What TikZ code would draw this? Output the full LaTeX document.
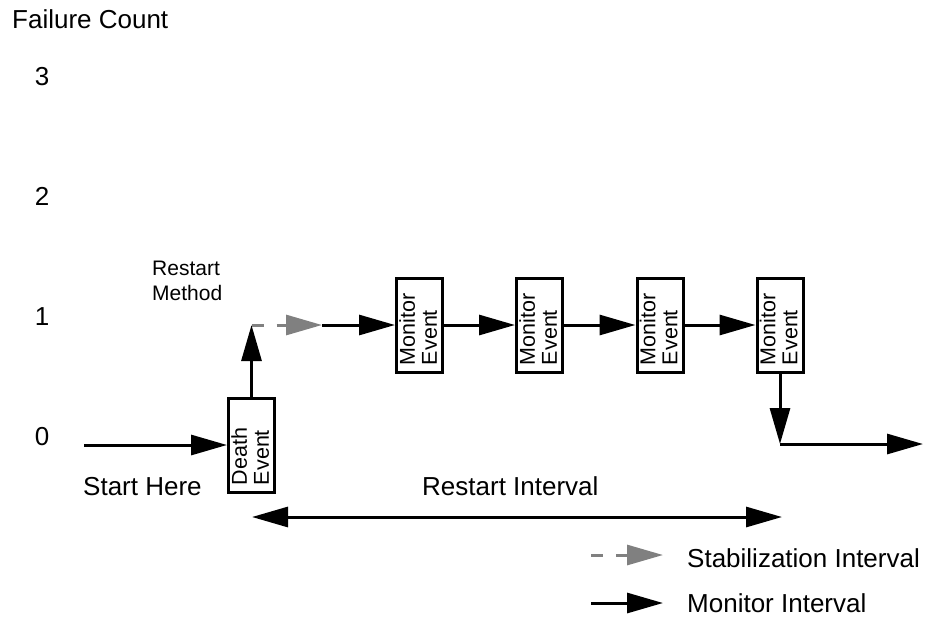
\documentclass[tikz,border=0pt]{standalone}
\usepackage{fontspec}
\setmainfont{Liberation Sans}
\usepackage{graphicx}
\usetikzlibrary{arrows.meta}
\definecolor{stabgray}{RGB}{128,128,128}
% two-line label set sideways inside an event box, nudged off the left border
\newcommand{\evlabel}[2]{\makebox[0pt]{\hspace*{4pt}\rotatebox{90}{\begin{tabular}{@{}p{80pt}@{}}#1\\#2\end{tabular}}}}

\begin{document}
\begin{tikzpicture}[
  x=1pt, y=-1pt,
  bigtip/.tip={Triangle[length=36pt,width=20pt]},
  flow/.style={line width=3pt, -bigtip},
  stab/.style={flow, stabgray, dash pattern=on 12pt off 13pt},
  span/.style={line width=3pt, bigtip-bigtip},
  evbox/.style={draw, line width=3pt, minimum width=46pt, minimum height=94pt,
    inner sep=0pt, font=\fontsize{21.5}{22}\selectfont},
  lbl/.style={inner sep=0pt, anchor=base west, font=\fontsize{26}{30}\selectfont},
  num/.style={inner sep=0pt, anchor=base, font=\fontsize{26}{30}\selectfont},
  small/.style={inner sep=0pt, anchor=base west, font=\fontsize{21}{25}\selectfont},
]
\useasboundingbox (0,0) rectangle (929,619);

% axis title and failure-count levels
\node[lbl] (title) at (12,28) {Failure Count};
\node[num] (c3) at (42,85) {3};
\node[num] (c2) at (42,205) {2};
\node[num] (c1) at (42,325) {1};
\node[num] (c0) at (42,445) {0};

% event boxes
\node[evbox] (death) at (251.5,445) {\evlabel{Death}{Event}};
\node[evbox] (m1) at (419.5,325) {\evlabel{Monitor}{Event}};
\node[evbox] (m2) at (539.5,325) {\evlabel{Monitor}{Event}};
\node[evbox] (m3) at (660,325) {\evlabel{Monitor}{Event}};
\node[evbox] (m4) at (780,325) {\evlabel{Monitor}{Event}};

% labels
\node[small] (rmeth) at (152,275) {\begin{tabular}[t]{@{}l@{}}Restart\\Method\end{tabular}};
\node[lbl] (start) at (83,495) {Start Here};
\node[lbl] (rint) at (422,495) {Restart Interval};

% free ends of connectors
\coordinate (in0) at (84,445);
\coordinate (rise) at (251.5,325);
\coordinate (stabend) at (322,325);
\coordinate (drop) at (780,444);
\coordinate (out) at (923,444);
\coordinate (ri0) at (252,517);
\coordinate (ri1) at (782,517);

% event sequence
\draw[flow] (in0) -- (death.west);
\draw[flow] (death.north) -- (rise);
\draw[stab] (rise) -- (stabend);
\draw[flow] (stabend) -- (m1.west);
\draw[flow] (m1.east) -- (m2.west);
\draw[flow] (m2.east) -- (m3.west);
\draw[flow] (m3.east) -- (m4.west);
\draw[flow] (m4.south) -- (drop);
\draw[flow] (drop) -- (out);

% restart interval span
\draw[span] (ri0) -- (ri1);

% legend
\coordinate (lg0) at (591,555);
\coordinate (lg1) at (663,555);
\coordinate (lm0) at (591,603);
\coordinate (lm1) at (663,603);
\draw[stab] (lg0) -- (lg1);
\draw[flow] (lm0) -- (lm1);
\node[lbl] (lstab) at (687,567) {Stabilization Interval};
\node[lbl] (lmon) at (687,612) {Monitor Interval};
\end{tikzpicture}
\end{document}
